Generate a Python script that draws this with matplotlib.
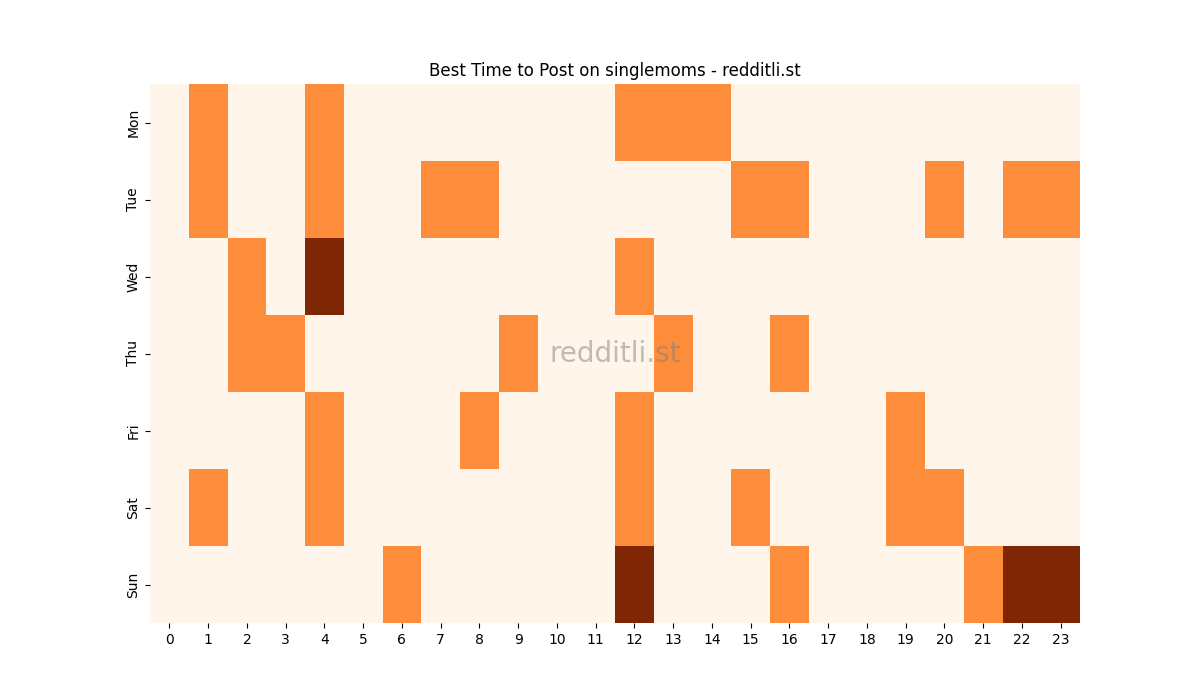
import matplotlib
matplotlib.use("Agg")
import matplotlib.pyplot as plt
import seaborn as sns
import numpy as np

days = ["Mon", "Tue", "Wed", "Thu", "Fri", "Sat", "Sun"]
hours = list(range(24))
mon = [0,1,0,0,1,0,0,0,0,0,0,0,1,1,1,0,0,0,0,0,0,0,0,0]
tue = [0,1,0,0,1,0,0,1,1,0,0,0,0,0,0,1,1,0,0,0,1,0,1,1]
wed = [0,0,1,0,2,0,0,0,0,0,0,0,1,0,0,0,0,0,0,0,0,0,0,0]
thu = [0,0,1,1,0,0,0,0,0,1,0,0,0,1,0,0,1,0,0,0,0,0,0,0]
fri = [0,0,0,0,1,0,0,0,1,0,0,0,1,0,0,0,0,0,0,1,0,0,0,0]
sat = [0,1,0,0,1,0,0,0,0,0,0,0,1,0,0,1,0,0,0,1,1,0,0,0]
sun = [0,0,0,0,0,0,1,0,0,0,0,0,2,0,0,0,1,0,0,0,0,1,2,2]

data = np.array([mon, tue, wed, thu, fri, sat, sun])

fig, ax = plt.subplots(figsize=(12, 7), dpi=100)
sns.heatmap(data, cmap="Oranges", cbar=False, ax=ax, xticklabels=hours, yticklabels=days, vmin=0, vmax=2)
ax.set_title("Best Time to Post on singlemoms - redditli.st")
ax.text(0.5, 0.5, "redditli.st", transform=ax.transAxes, ha="center", va="center",
        fontsize=20, color="gray", alpha=0.5)
plt.setp(ax.get_yticklabels(), rotation=90, va="center")
plt.setp(ax.get_xticklabels(), rotation=0)
fig.savefig("out.png")
